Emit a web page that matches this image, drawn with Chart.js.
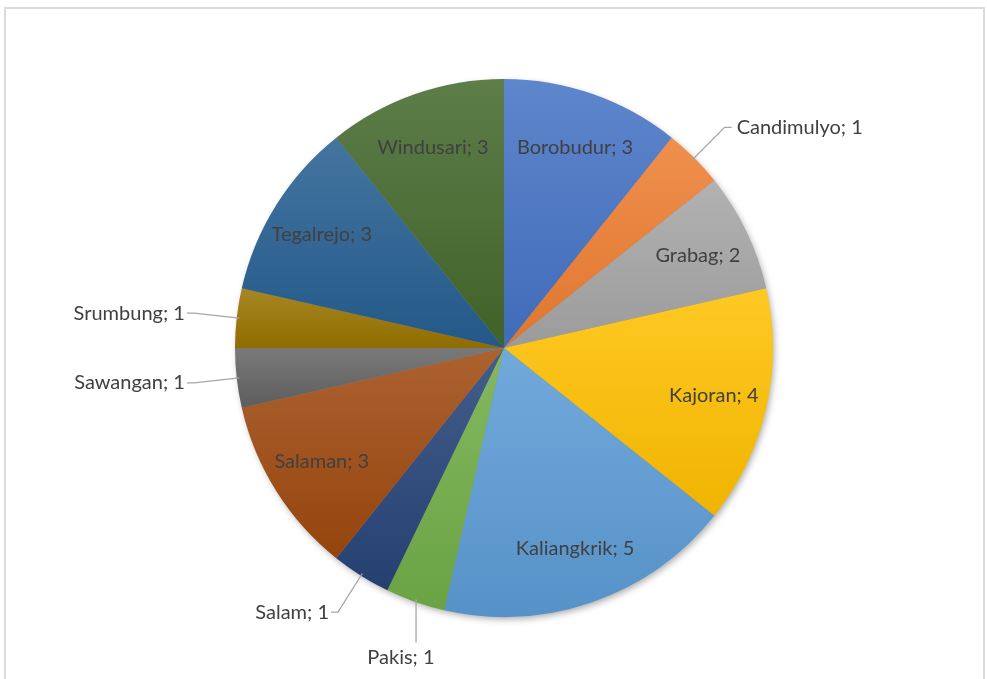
<!DOCTYPE html>
<html>
<head>
<meta charset="utf-8">
<script src="https://cdn.jsdelivr.net/npm/chart.js@4"></script>
<style>
    body { margin: 0; background: #fff; }
    .frame {
        position: absolute;
        left: 4px; top: 7px;
        width: 981px; height: 700px;
        border: 2px solid #dcdcdc;
        box-sizing: border-box;
    }
    .wrap { position: absolute; left: 0; top: 0; width: 987px; height: 679px; }
</style>
</head>
<body>
<div class="frame"></div>
<div class="wrap"><canvas id="pieChart" width="987" height="679"></canvas></div>
<script>
// Data (clockwise from 12 o'clock)
const categories = ['Borobudur', 'Candimulyo', 'Grabag', 'Kajoran', 'Kaliangkrik', 'Pakis',
    'Salam', 'Salaman', 'Sawangan', 'Srumbung', 'Tegalrejo', 'Windusari'];
const values = [3, 1, 2, 4, 5, 1, 1, 3, 1, 1, 3, 3];
const colors = ['#4472C4', '#ED7D31', '#A5A5A5', '#FFC000', '#5B9BD5', '#70AD47',
    '#264478', '#9E480E', '#636363', '#997300', '#255E91', '#43682B'];

const total = values.reduce((a, b) => a + b, 0);

function mix(hex, target, t) {
    const n = parseInt(hex.slice(1), 16);
    const r = (n >> 16) & 255, g = (n >> 8) & 255, b = n & 255;
    const f = c => Math.round(c + (target - c) * t);
    return `rgb(${f(r)},${f(g)},${f(b)})`;
}

// Excel-like gradient: each slice lighter at its top, a bit darker at its bottom
function sliceGradient(ctx) {
    const chart = ctx.chart;
    const area = chart.chartArea;
    const i = ctx.dataIndex;
    if (!area || i === undefined) return colors[i] || '#999';
    const cx = (area.left + area.right) / 2;
    const cy = (area.top + area.bottom) / 2;
    const R = Math.min(area.right - area.left, area.bottom - area.top) / 2;
    let before = 0;
    for (let k = 0; k < i; k++) before += values[k];
    const a0 = -Math.PI / 2 + before / total * Math.PI * 2;
    const a1 = a0 + values[i] / total * Math.PI * 2;
    const ys = [cy, cy + R * Math.sin(a0), cy + R * Math.sin(a1)];
    for (let k = -2; k <= 4; k++) {
        const a = k * Math.PI / 2;
        if (a > a0 && a < a1) ys.push(cy + R * Math.sin(a));
    }
    const top = Math.min(...ys), bottom = Math.max(...ys);
    const g = chart.ctx.createLinearGradient(0, top, 0, bottom);
    g.addColorStop(0, mix(colors[i], 255, 0.14));
    g.addColorStop(1, mix(colors[i], 0, 0.06));
    return g;
}

// soft shadow under the pie
const pieShadow = {
    id: 'pieShadow',
    beforeDatasetsDraw(chart) {
        const arc = chart.getDatasetMeta(0).data[0];
        if (!arc) return;
        const { x, y, outerRadius } = arc.getProps(['x', 'y', 'outerRadius'], true);
        const c = chart.ctx;
        c.save();
        c.shadowColor = 'rgba(0,0,0,0.35)';
        c.shadowBlur = 7;
        c.shadowOffsetX = 2;
        c.shadowOffsetY = 3;
        c.fillStyle = '#888';
        c.beginPath();
        c.arc(x, y, outerRadius - 1, 0, Math.PI * 2);
        c.fill();
        c.restore();
    }
};

// data labels "Name; value", small slices outside with leader lines
const sliceLabels = {
    id: 'sliceLabels',
    afterDatasetsDraw(chart) {
        const c = chart.ctx;
        const meta = chart.getDatasetMeta(0);
        c.save();
        c.font = '20px Lato, "Open Sans", sans-serif';
        c.fillStyle = '#404040';
        c.textBaseline = 'middle';
        meta.data.forEach((arc, i) => {
            const { x, y, startAngle, endAngle, outerRadius: R } =
                arc.getProps(['x', 'y', 'startAngle', 'endAngle', 'outerRadius'], true);
            const mid = (startAngle + endAngle) / 2;
            const dx = Math.cos(mid), dy = Math.sin(mid);
            const text = categories[i] + '; ' + values[i];
            if (values[i] / total >= 0.05) {
                c.textAlign = 'center';
                c.fillText(text, x + dx * R * 0.8, y + dy * R * 0.79);
                return;
            }
            const ex = x + dx * R * 0.99, ey = y + dy * R * 0.99;
            const ax = x + dx * R * 1.16, ay = y + dy * R * 1.16;
            c.strokeStyle = '#a6a6a6';
            c.lineWidth = 1.3;
            c.beginPath();
            c.moveTo(ex, ey);
            if (Math.abs(dx) >= 0.4) {
                const side = dx > 0 ? 1 : -1;
                c.lineTo(ax, ay);
                c.lineTo(ax + side * 7, ay);
                c.stroke();
                c.textAlign = side > 0 ? 'left' : 'right';
                c.fillText(text, ax + side * (side > 0 ? 12 : 9), ay);
            } else {
                c.lineTo(ex, ay);
                c.stroke();
                c.textAlign = 'center';
                c.fillText(text, ax, ay + 15);
            }
        });
        c.restore();
    }
};

new Chart(document.getElementById('pieChart'), {
    type: 'pie',
    data: {
        labels: categories,
        datasets: [{
            data: values,
            backgroundColor: sliceGradient,
            borderWidth: 0
        }]
    },
    options: {
        responsive: false,
        animation: false,
        layout: { padding: { left: 21, right: 0, top: 79, bottom: 62 } },
        plugins: {
            legend: { display: false },
            tooltip: { enabled: false }
        }
    },
    plugins: [pieShadow, sliceLabels]
});
</script>
</body>
</html>
